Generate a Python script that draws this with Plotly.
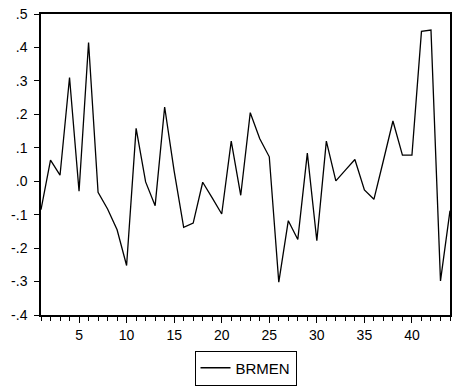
import plotly.graph_objects as go

obs = list(range(1, 45))
brmen = [-0.085, 0.063, 0.018, 0.31, -0.03, 0.415, -0.033, -0.083, -0.145, -0.252,
         0.158, -0.002, -0.073, 0.222, 0.03, -0.138, -0.125, -0.003, -0.05, -0.098,
         0.12, -0.042, 0.205, 0.127, 0.073, -0.302, -0.118, -0.174, 0.084, -0.178,
         0.12, 0.001, 0.033, 0.065, -0.026, -0.054, 0.062, 0.18, 0.078, 0.078,
         0.448, 0.452, -0.298, -0.088]

ytick_vals = [0.5, 0.4, 0.3, 0.2, 0.1, 0.0, -0.1, -0.2, -0.3, -0.4]
ytick_text = [".5", ".4", ".3", ".2", ".1", ".0", "-.1", "-.2", "-.3", "-.4"]
xtick_vals = [5, 10, 15, 20, 25, 30, 35, 40]

fig = go.Figure()
fig.add_trace(go.Scatter(x=obs, y=brmen, mode="lines", name="BRMEN",
                         line=dict(color="black", width=1.3)))

fig.update_layout(
    width=455, height=388,
    margin=dict(l=41, r=3, t=14, b=72),
    paper_bgcolor="white", plot_bgcolor="white",
    font=dict(family="Liberation Sans, Arial, sans-serif", size=14, color="black"),
    showlegend=True,
    legend=dict(orientation="h", x=0.5, xanchor="center", y=-0.118, yanchor="top",
                bordercolor="black", borderwidth=1, font=dict(size=15)),
    xaxis=dict(range=[1, 44], tickvals=xtick_vals, showgrid=False, zeroline=False,
               showline=True, linecolor="black", linewidth=1.5, mirror=True,
               ticks="outside", ticklen=6, tickcolor="black",
               minor=dict(dtick=1, ticks="outside", ticklen=4, tickcolor="black")),
    yaxis=dict(range=[-0.4, 0.5], tickvals=ytick_vals, ticktext=ytick_text,
               showgrid=False, zeroline=False, ticklabelstandoff=4,
               showline=True, linecolor="black", linewidth=1.5, mirror=True,
               ticks="outside", ticklen=5, tickcolor="black"),
)

fig.write_html("out.html", config={"displayModeBar": False},
               post_script="document.body.style.margin='0';document.body.style.overflow='hidden';")
